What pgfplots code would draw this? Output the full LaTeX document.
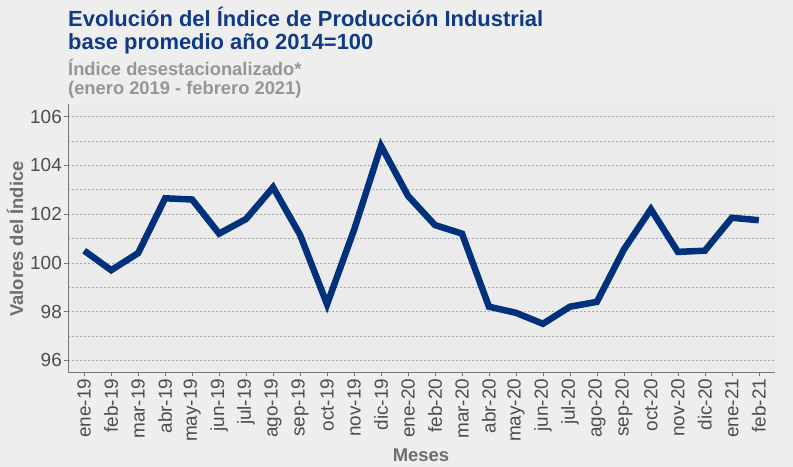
\documentclass[border=0pt]{standalone}
\usepackage{fontspec}
\setmainfont{Liberation Sans}
\usepackage{pgfplots}
\pgfplotsset{compat=1.18}
\definecolor{bgout}{RGB}{238,238,238}
\definecolor{bgpanel}{RGB}{235,235,235}
\definecolor{titleblue}{RGB}{16,58,133}
\definecolor{lineblue}{RGB}{0,49,122}
\definecolor{subgray}{RGB}{150,150,150}
\definecolor{tickgray}{RGB}{77,77,77}
\definecolor{labgray}{RGB}{110,110,110}
\definecolor{axgray}{RGB}{120,120,120}
\begin{document}
\begin{tikzpicture}[x=1bp,y=1bp]
\fill[bgout] (0,0) rectangle (793,467);
\useasboundingbox (0,0) rectangle (793,467);
\begin{axis}[
  at={(68bp,94.5bp)}, anchor=south west,
  scale only axis, width=707bp, height=268bp,
  xmin=-0.6, xmax=25.6, ymin=95.5, ymax=106.5,
  axis background/.style={fill=bgpanel},
  axis x line*=bottom, axis y line*=left,
  axis line style={axgray, line width=0.8pt, -},
  xtick={0,...,25},
  xticklabels={ene-19,feb-19,mar-19,abr-19,may-19,jun-19,jul-19,ago-19,sep-19,oct-19,nov-19,dic-19,ene-20,feb-20,mar-20,abr-20,may-20,jun-20,jul-20,ago-20,sep-20,oct-20,nov-20,dic-20,ene-21,feb-21},
  x tick label style={rotate=90, anchor=east, font=\fontsize{19}{21}\selectfont, text=tickgray, inner sep=2bp},
  ytick={96,98,100,102,104,106},
  minor ytick={97,99,101,103,105},
  y tick label style={font=\fontsize{19}{21}\selectfont, text=tickgray, inner sep=2bp},
  /pgf/number format/assume math mode=true,
  tick align=outside, tick pos=left,
  major tick length=4bp, minor tick length=0pt,
  tick style={axgray, line width=0.6pt},
  ymajorgrids, yminorgrids,
  major grid style={gray!70, dash pattern=on 2bp off 2bp, line width=0.6pt},
  minor grid style={gray!70, dash pattern=on 2bp off 2bp, line width=0.6pt},
  clip=false,
]
\addplot[lineblue, line width=6.5bp, line join=miter, miter limit=3] coordinates {
(0,100.5) (1,99.7) (2,100.4) (3,102.65) (4,102.6) (5,101.2) (6,101.8) (7,103.1) (8,101.15) (9,98.3) (10,101.35) (11,104.8) (12,102.75) (13,101.55) (14,101.2) (15,98.2) (16,97.95) (17,97.5) (18,98.2) (19,98.4) (20,100.55) (21,102.2) (22,100.45) (23,100.5) (24,101.85) (25,101.75)
};
\end{axis}
\node[anchor=base west, inner sep=0, text=titleblue, font=\fontsize{22}{24}\selectfont\bfseries] at (68,440) {Evolución del Índice de Producción Industrial};
\node[anchor=base west, inner sep=0, text=titleblue, font=\fontsize{22}{24}\selectfont\bfseries] at (68,417) {base promedio año 2014=100};
\node[anchor=base west, inner sep=0, text=subgray, font=\fontsize{18.4}{20}\selectfont\bfseries] at (68,391.5) {Índice desestacionalizado*};
\node[anchor=base west, inner sep=0, text=subgray, font=\fontsize{18.4}{20}\selectfont\bfseries] at (68,372) {(enero 2019 - febrero 2021)};
\node[anchor=base, rotate=90, inner sep=0, text=labgray, font=\fontsize{18.5}{20}\selectfont\bfseries] at (23,228) {Valores del Índice};
\node[anchor=base, inner sep=0, text=labgray, font=\fontsize{18.5}{20}\selectfont\bfseries] at (421,5.5) {Meses};
\end{tikzpicture}
\end{document}
